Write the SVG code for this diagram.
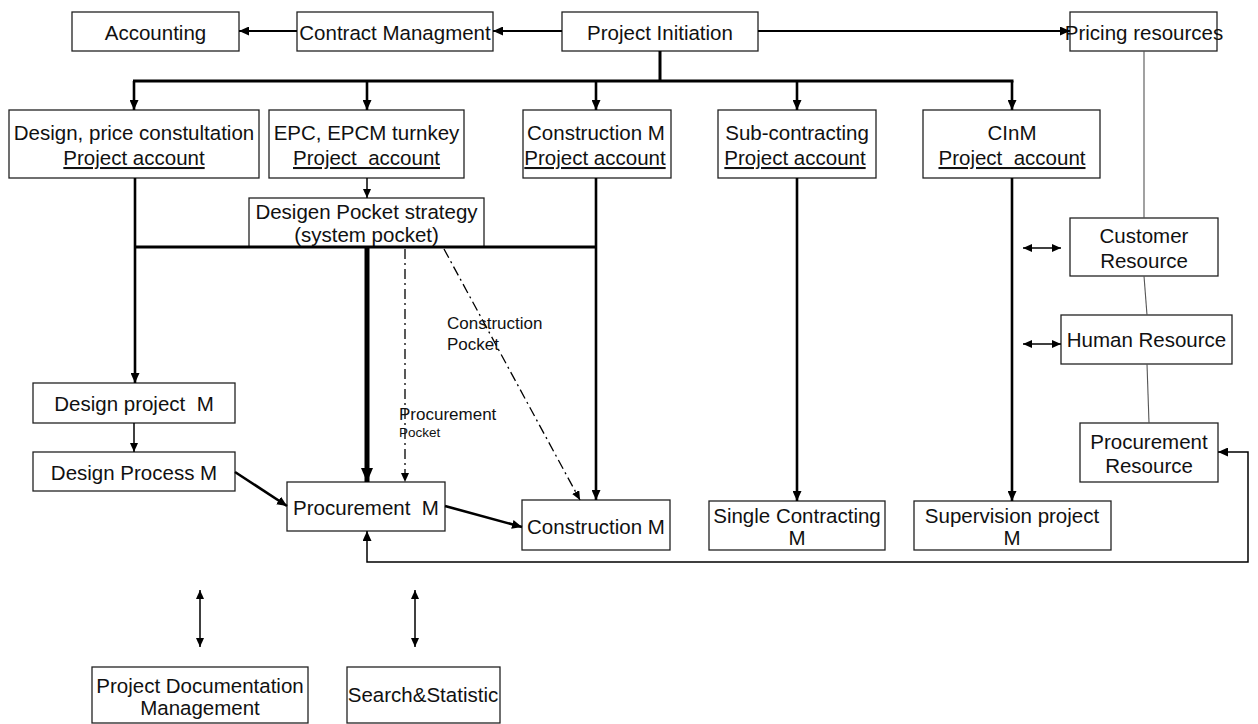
<svg xmlns="http://www.w3.org/2000/svg" width="1258" height="724" viewBox="0 0 1258 724">
  <style>
    .box { fill: #ffffff; stroke: #222222; stroke-width: 1.3; }
    text { font-family: "Liberation Sans", Arial, sans-serif; font-size: 20.5px; fill: #111111; text-anchor: middle; white-space: pre; }
    .u { text-decoration: underline; }
    .lbl { font-size: 17px; text-anchor: start; }
    .lbl-s { font-size: 13.5px; text-anchor: start; }
    .c { fill: none; stroke: #000000; }
    .w1 { stroke-width: 1.5; }
    .w2 { stroke-width: 2; }
    .w3 { stroke-width: 2.6; }
    .bus { stroke-width: 3; }
    .heavy { stroke-width: 5; }
    .dd { stroke-width: 1.3; stroke-dasharray: 10 4 2 4; }
    .thin { stroke: #555555; stroke-width: 1.1; }
  </style>
  <defs>
    <marker id="ah" viewBox="0 0 10 9" refX="10" refY="4.5" markerWidth="10" markerHeight="9" markerUnits="userSpaceOnUse" orient="auto-start-reverse">
      <path d="M0,0 L10,4.5 L0,9 z" fill="#000000"/>
    </marker>
    <marker id="ahs" viewBox="0 0 9 8" refX="9" refY="4" markerWidth="9" markerHeight="8" markerUnits="userSpaceOnUse" orient="auto-start-reverse">
      <path d="M0,0 L9,4 L0,8 z" fill="#000000"/>
    </marker>
    <marker id="ahb" viewBox="0 0 14 12" refX="14" refY="6" markerWidth="14" markerHeight="12" markerUnits="userSpaceOnUse" orient="auto">
      <path d="M0,0 L14,6 L0,12 z" fill="#000000"/>
    </marker>
  </defs>

  <!-- top row -->
  <g id="accounting"><rect class="box" x="72" y="12" width="167" height="39"/><text x="155.5" y="40">Accounting</text></g>
  <g id="contract-management"><rect class="box" x="297" y="12" width="196" height="39"/><text x="395" y="40">Contract Managment</text></g>
  <g id="project-initiation"><rect class="box" x="562" y="12" width="196" height="39"/><text x="660" y="40">Project Initiation</text></g>
  <g id="pricing-resources"><rect class="box" x="1070" y="12" width="147" height="39"/><text x="1144" y="40">Pricing resources</text></g>

  <!-- project account row -->
  <g id="design-price"><rect class="box" x="9" y="110" width="250" height="68"/><text x="134" y="140">Design, price constultation</text><text class="u" x="134" y="165">Project account</text></g>
  <g id="epc"><rect class="box" x="269" y="110" width="195" height="68"/><text x="366.5" y="140">EPC, EPCM turnkey</text><text class="u" x="366.5" y="165">Project  account</text></g>
  <g id="construction-account"><rect class="box" x="523" y="110" width="148" height="68"/><text x="596" y="140">Construction M</text><text class="u" x="595" y="165">Project account</text></g>
  <g id="sub-contracting"><rect class="box" x="718" y="110" width="158" height="68"/><text x="797" y="140">Sub-contracting</text><text class="u" x="795" y="165">Project account</text></g>
  <g id="cinm"><rect class="box" x="923" y="110" width="177" height="68"/><text x="1012" y="140">CInM</text><text class="u" x="1012" y="165">Project  account</text></g>

  <g id="pocket-strategy"><rect class="box" x="249" y="198" width="235" height="49"/><text x="366.5" y="219">Desigen Pocket strategy</text><text x="366.5" y="242">(system pocket)</text></g>

  <!-- resources column -->
  <g id="customer-resource"><rect class="box" x="1070" y="218" width="148" height="58"/><text x="1144" y="243">Customer</text><text x="1144" y="268">Resource</text></g>
  <g id="human-resource"><rect class="box" x="1061" y="315" width="171" height="49"/><text x="1146.5" y="347">Human Resource</text></g>
  <g id="procurement-resource"><rect class="box" x="1080" y="423" width="138" height="59"/><text x="1149" y="449">Procurement</text><text x="1149" y="473">Resource</text></g>

  <!-- module row -->
  <g id="design-project"><rect class="box" x="33" y="383" width="202" height="40"/><text x="134" y="411">Design project  M</text></g>
  <g id="design-process"><rect class="box" x="33" y="452" width="202" height="39"/><text x="134" y="480">Design Process M</text></g>
  <g id="procurement-m"><rect class="box" x="287" y="482" width="158" height="49"/><text x="366" y="515">Procurement  M</text></g>
  <g id="construction-m"><rect class="box" x="522" y="500" width="148" height="50"/><text x="596" y="534">Construction M</text></g>
  <g id="single-contracting"><rect class="box" x="709" y="501" width="176" height="49"/><text x="797" y="523">Single Contracting</text><text x="797" y="545">M</text></g>
  <g id="supervision"><rect class="box" x="914" y="501" width="197" height="49"/><text x="1012" y="523">Supervision project</text><text x="1012" y="545">M</text></g>

  <!-- bottom row -->
  <g id="documentation"><rect class="box" x="92" y="667" width="216" height="56"/><text x="200" y="693">Project Documentation</text><text x="200" y="715">Management</text></g>
  <g id="search-statistic"><rect class="box" x="347" y="667" width="153" height="56"/><text x="423" y="702">Search&amp;Statistic</text></g>

  <!-- connectors -->
  <g id="connectors">
    <line class="c w2" x1="562" y1="31" x2="493" y2="31" marker-end="url(#ah)"/>
    <line class="c w2" x1="297" y1="31" x2="239" y2="31" marker-end="url(#ah)"/>
    <line class="c w2" x1="758" y1="31" x2="1070" y2="31" marker-end="url(#ah)"/>

    <line class="c bus" x1="660" y1="51" x2="660" y2="81"/>
    <line class="c bus" x1="133" y1="81" x2="1013.5" y2="81"/>
    <line class="c w3" x1="134" y1="81" x2="134" y2="110" marker-end="url(#ah)"/>
    <line class="c w3" x1="367" y1="81" x2="367" y2="110" marker-end="url(#ah)"/>
    <line class="c w3" x1="596" y1="81" x2="596" y2="110" marker-end="url(#ah)"/>
    <line class="c w3" x1="797" y1="81" x2="797" y2="110" marker-end="url(#ah)"/>
    <line class="c w3" x1="1012" y1="81" x2="1012" y2="110" marker-end="url(#ah)"/>

    <line class="c w1" x1="367" y1="178" x2="367" y2="198" marker-end="url(#ahs)"/>
    <line class="c bus" x1="134" y1="247" x2="597" y2="247"/>
    <line class="c w3" x1="135" y1="178" x2="135" y2="383" marker-end="url(#ah)"/>
    <line class="c w3" x1="596" y1="178" x2="596" y2="500" marker-end="url(#ah)"/>
    <line class="c heavy" x1="367" y1="247" x2="367" y2="482" marker-end="url(#ahb)"/>
    <line class="c dd" x1="405" y1="249" x2="405" y2="482" marker-end="url(#ahs)"/>
    <line class="c dd" x1="444" y1="249" x2="580" y2="500" marker-end="url(#ahs)"/>
    <line class="c w3" x1="797" y1="178" x2="797" y2="501" marker-end="url(#ah)"/>
    <line class="c w3" x1="1012" y1="178" x2="1012" y2="501" marker-end="url(#ah)"/>

    <line class="c w1" x1="134" y1="423" x2="134" y2="452" marker-end="url(#ahs)"/>
    <line class="c w3" x1="235" y1="472" x2="287" y2="506" marker-end="url(#ah)"/>
    <line class="c w3" x1="445" y1="506" x2="522" y2="527" marker-end="url(#ah)"/>
    <path class="c w1" d="M1218,452 H1248 V562 H367 V531" marker-start="url(#ah)" marker-end="url(#ah)"/>

    <line class="c thin" x1="1144" y1="51" x2="1144" y2="218"/>
    <line class="c thin" x1="1144" y1="276" x2="1147" y2="315"/>
    <line class="c thin" x1="1147" y1="364" x2="1149" y2="423"/>

    <line class="c w1" x1="1023" y1="248" x2="1061" y2="248" marker-start="url(#ahs)" marker-end="url(#ahs)"/>
    <line class="c w1" x1="1023" y1="344" x2="1061" y2="344" marker-start="url(#ahs)" marker-end="url(#ahs)"/>
    <line class="c w1" x1="200" y1="590" x2="200" y2="647" marker-start="url(#ahs)" marker-end="url(#ahs)"/>
    <line class="c w1" x1="415" y1="590" x2="415" y2="647" marker-start="url(#ahs)" marker-end="url(#ahs)"/>
  </g>

  <!-- pocket labels -->
  <g id="pocket-labels">
    <text class="lbl" x="447" y="329">Construction</text>
    <text class="lbl" x="447" y="350">Pocket</text>
    <text class="lbl" x="399" y="420">Procurement</text>
    <text class="lbl-s" x="399" y="437">Pocket</text>
  </g>
</svg>
